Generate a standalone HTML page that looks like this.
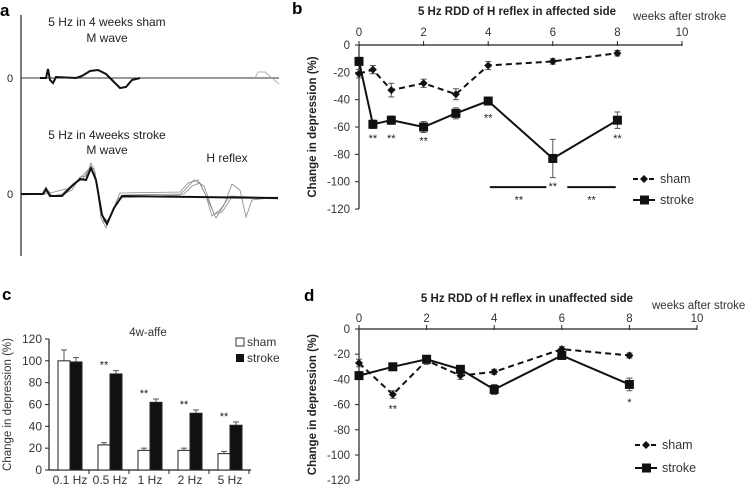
<!DOCTYPE html>
<html><head><meta charset="utf-8"><style>
body{margin:0;background:#fff;width:752px;height:489px;overflow:hidden}
svg{font-family:"Liberation Sans",Arial,sans-serif}
</style></head><body>
<svg id="fig" width="752" height="489" viewBox="0 0 752 489">
<!-- Panel a -->
<g id="pa">
<text x="0" y="16" font-size="17" font-weight="bold">a</text>
<line x1="21" y1="15" x2="21" y2="256" stroke="#222" stroke-width="1.2"/>
<text x="107" y="26" font-size="12" text-anchor="middle" fill="#222">5 Hz in 4 weeks sham</text>
<text x="107" y="42" font-size="12" text-anchor="middle" fill="#222">M wave</text>
<text x="107" y="139" font-size="12" text-anchor="middle" fill="#222">5 Hz in 4weeks stroke</text>
<text x="107" y="154" font-size="12" text-anchor="middle" fill="#222">M wave</text>
<text x="227" y="162" font-size="12" text-anchor="middle" fill="#222">H reflex</text>
<text x="10" y="82" font-size="11" text-anchor="middle" fill="#222">0</text>
<text x="10" y="198" font-size="11" text-anchor="middle" fill="#222">0</text>
<line x1="21" y1="78" x2="279" y2="78" stroke="#333" stroke-width="1"/>
<path d="M255,78 L258,72 L265,72 L272,78 L279,84" fill="none" stroke="#999" stroke-width="0.8"/>
<path d="M40,78 L46,78 L48,69 L50,80 L53,83 L56,77 L76,78 L82,76 L90,71 L98,70 L106,74 L114,82 L120,88 L126,87 L132,80 L140,78" fill="none" stroke="#111" stroke-width="2"/>
<g fill="none" stroke="#888" stroke-width="0.8">
<path d="M21,194 L42,194 L46,187 L50,195 L60,196 L72,190 L80,177 L86,176 L91,163 L95,172 L101,218 L106,228 L112,212 L120,193 L180,192 L188,183 L198,180 L206,196 L212,216 L220,210 L230,196 L278,198"/>
<path d="M21,195 L44,194 L48,190 L52,196 L62,194 L74,183 L82,180 L90,168 L96,178 L102,215 L108,222 L116,205 L124,195 L184,194 L192,186 L200,183 L208,200 L216,218 L224,205 L232,184 L240,190 L246,217 L252,200 L278,197"/>
<path d="M21,194 L46,194 L70,188 L78,180 L88,170 L94,168 L100,205 L104,222 L110,218 L118,198 L180,195 L194,180 L204,186 L214,214 L222,212 L232,197 L278,199"/>
</g>
<path d="M21,194 L43,194 L46,189 L50,196 L62,196 L72,186 L80,179 L86,180 L91,168 L96,180 L102,215 L107,224 L114,208 L122,196 L278,198" fill="none" stroke="#111" stroke-width="2"/>
</g>

<!-- Panel c -->
<g id="pc"></g>
<!-- Panel b -->
<g id="pb"></g>
<!-- Panel d -->
<g id="pd"></g>
</svg>
<script>
const NS="http://www.w3.org/2000/svg";
// Panel b data
const bWeeks=[0,0.43,1,2,3,4,6,8];
const bSham=[-21,-18,-33,-28,-36,-15,-12,-6];
const bShamErr=[3,3,5,3,4,3,2,2];
const bStroke=[-12,-58,-55,-60,-50,-41,-83,-55];
const bStrokeErr=[3,3,3,4,4,2,14,6];
const bStarWeeks=[0.43,1,2,4,8];
const bStarVals=[-68,-68,-70,-53,-68];
// Panel d data
const dWeeks=[0,1,2,3,4,6,8];
const dSham=[-27,-52,-25,-37,-34,-16,-21];
const dShamErr=[3,3,3,3,2,2,2];
const dStroke=[-37,-30,-24,-32,-48,-21,-44];
const dStrokeErr=[3,2,2,3,4,2,5];
// Panel c data
const cCats=["0.1 Hz","0.5 Hz","1 Hz","2 Hz","5 Hz"];
const cSham=[100,23,18,18,15];
const cShamErr=[10,2,2,2,2];
const cStroke=[99,88,62,52,41];
const cStrokeErr=[4,3,3,3,3];
const cStars=[false,true,true,true,true];
const yTicksLine=[0,-20,-40,-60,-80,-100,-120];
const xTicksLine=[0,2,4,6,8,10];
const yTicksBar=[0,20,40,60,80,100,120];

function el(tag,attrs,parent,text){const e=document.createElementNS(NS,tag);for(const k in attrs)e.setAttribute(k,attrs[k]);if(text!==undefined)e.textContent=text;parent.appendChild(e);return e;}

function lineChart(g,cfg){
  const X=w=>cfg.x0+w*cfg.xs, Y=v=>cfg.y0-v*cfg.ys;
  let t=el('text',{x:cfg.lx,y:cfg.ly,'font-size':17,'font-weight':'bold'},g,cfg.label);
  
  
  t=el('text',{x:cfg.tx,y:cfg.ty,'font-size':11.5,'font-weight':'bold','text-anchor':'middle',fill:'#222'},g,cfg.title);
  
  
  t=el('text',{x:cfg.wx,y:cfg.wy,'font-size':11.5,fill:'#333'},g,'weeks after stroke');
  
  
  t=el('text',{transform:`translate(${cfg.yl},${Y(-60)}) rotate(-90)`,'font-size':11.5,'font-weight':'bold','text-anchor':'middle',fill:'#222'},g,'Change in depression (%)');
  
  
  el('line',{x1:X(0),y1:Y(0),x2:X(10),y2:Y(0),stroke:'#222','stroke-width':1.2},g);
  el('line',{x1:X(0),y1:Y(0),x2:X(0),y2:Y(-120),stroke:'#222','stroke-width':1.2},g);
  xTicksLine.forEach(w=>{el('line',{x1:X(w),y1:Y(0)-4,x2:X(w),y2:Y(0)+1,stroke:'#222'},g);
    const tt=el('text',{x:X(w),y:cfg.xty,'font-size':11.5,'text-anchor':'middle',fill:'#333'},g,String(w));
    
    });
  yTicksLine.forEach(v=>{el('line',{x1:X(0)-4,y1:Y(v),x2:X(0),y2:Y(v),stroke:'#222'},g);
    const tt=el('text',{x:X(0)-9,y:Y(v)+4,'font-size':11.5,'text-anchor':'end',fill:'#333'},g,String(v));
    
    });
  function series(ws,vs,es,dash,name,square){
    const pts=ws.map((w,i)=>X(w)+','+Y(vs[i])).join(' ');
    const pl=el('polyline',{points:pts,fill:'none',stroke:'#111','stroke-width':2,'stroke-dasharray':dash},g);
    
    
    ws.forEach((w,i)=>{
      const x=X(w),y=Y(vs[i]),e=es[i]*cfg.ys;
      el('line',{x1:x,y1:y-e,x2:x,y2:y+e,stroke:'#555','stroke-width':1},g);
      el('line',{x1:x-3,y1:y-e,x2:x+3,y2:y-e,stroke:'#555'},g);
      el('line',{x1:x-3,y1:y+e,x2:x+3,y2:y+e,stroke:'#555'},g);
      let m;
      if(square)m=el('rect',{x:x-4.5,y:y-4.5,width:9,height:9,fill:'#111'},g);
      else m=el('path',{d:`M${x},${y-4}L${x+4},${y}L${x},${y+4}L${x-4},${y}Z`,fill:'#111'},g);
      
      
    });
  }
  series(cfg.ws,cfg.sham,cfg.shamE,'6,4','sham',false);
  series(cfg.ws,cfg.stroke,cfg.strokeE,'','stroke',true);
  const lx=cfg.legx;
  el('line',{x1:lx,y1:cfg.leg1,x2:lx+22,y2:cfg.leg1,stroke:'#111','stroke-width':2,'stroke-dasharray':'5,3'},g);
  el('path',{d:`M${lx+11},${cfg.leg1-4}L${lx+15},${cfg.leg1}L${lx+11},${cfg.leg1+4}L${lx+7},${cfg.leg1}Z`,fill:'#111'},g);
  t=el('text',{x:lx+27,y:cfg.leg1+4,'font-size':12.5,fill:'#333'},g,'sham');
  
  
  el('line',{x1:lx,y1:cfg.leg2,x2:lx+22,y2:cfg.leg2,stroke:'#111','stroke-width':2},g);
  el('rect',{x:lx+7,y:cfg.leg2-4.5,width:9,height:9,fill:'#111'},g);
  t=el('text',{x:lx+27,y:cfg.leg2+4,'font-size':12.5,fill:'#333'},g,'stroke');
  
  
  return {X,Y};
}
function star(g,x,y,s){const t=el('text',{x:x,y:y,'font-size':11,'text-anchor':'middle',fill:'#222'},g,s);
  
  }

const gb=document.getElementById('pb');
const b=lineChart(gb,{x0:359,xs:32.3,y0:45,ys:1.367,label:'b',lx:292,ly:14,title:'5 Hz RDD of H reflex in affected side',tx:517,ty:15,wx:633,wy:20,yl:316,xty:36,
  ws:bWeeks,sham:bSham,shamE:bShamErr,stroke:bStroke,strokeE:bStrokeErr,legx:633,leg1:179,leg2:200});
bStarWeeks.forEach((w,i)=>star(gb,b.X(w),b.Y(bStarVals[i])+4,'**'));
el('line',{x1:b.X(4.05),y1:b.Y(-104),x2:b.X(5.8),y2:b.Y(-104),stroke:'#111','stroke-width':2},gb);
el('line',{x1:b.X(6.45),y1:b.Y(-104),x2:b.X(7.95),y2:b.Y(-104),stroke:'#111','stroke-width':2},gb);
star(gb,b.X(6),b.Y(-103)+4,'**');star(gb,b.X(4.95),b.Y(-113)+4,'**');star(gb,b.X(7.2),b.Y(-113)+4,'**');

const gd=document.getElementById('pd');
const d=lineChart(gd,{x0:359,xs:33.8,y0:329,ys:1.26,label:'d',lx:304,ly:301,title:'5 Hz RDD of H reflex in unaffected side',tx:527,ty:302,wx:652,wy:309,yl:316,xty:322,
  ws:dWeeks,sham:dSham,shamE:dShamErr,stroke:dStroke,strokeE:dStrokeErr,legx:635,leg1:445,leg2:468});
star(gd,d.X(1),d.Y(-63)+4,'**');star(gd,d.X(8),d.Y(-57)+5,'*');

const gc=document.getElementById('pc');
const cx0=49,cy0=470,cys=131/120,cw=40,bw=12;
const CY=v=>cy0-v*cys;
let t=el('text',{x:2,y:300,'font-size':17,'font-weight':'bold'},gc,'c');


t=el('text',{x:148,y:336,'font-size':11.5,'text-anchor':'middle',fill:'#333'},gc,'4w-affe');


t=el('text',{transform:`translate(11,${CY(60)}) rotate(-90)`,'font-size':11.5,'text-anchor':'middle',fill:'#333'},gc,'Change in depression (%)');


el('line',{x1:cx0,y1:cy0,x2:cx0,y2:CY(120),stroke:'#222','stroke-width':1.2},gc);
el('line',{x1:cx0,y1:cy0,x2:cx0+cw*cCats.length+2,y2:cy0,stroke:'#222','stroke-width':1.2},gc);
yTicksBar.forEach(v=>{el('line',{x1:cx0-4,y1:CY(v),x2:cx0,y2:CY(v),stroke:'#222'},gc);
  const tt=el('text',{x:cx0-7,y:CY(v)+4,'font-size':12,'text-anchor':'end',fill:'#333'},gc,String(v));
  
  });
cCats.forEach((c,i)=>{
  const mid=cx0+cw*i+cw/2+1;
  el('line',{x1:cx0+cw*(i+1),y1:cy0,x2:cx0+cw*(i+1),y2:cy0+4,stroke:'#222'},gc);
  const tt=el('text',{x:mid,y:484,'font-size':12,'text-anchor':'middle',fill:'#333'},gc,c);
  
  
  [[cSham,cShamErr,'#fff',mid-bw,'bar-sham'],[cStroke,cStrokeErr,'#111',mid,'bar-stroke']].forEach(([vals,errs,fill,x,name])=>{
    const v=vals[i],top=CY(v),e=errs[i]*cys;
    el('line',{x1:x+bw/2,y1:top,x2:x+bw/2,y2:top-e,stroke:'#555'},gc);
    el('line',{x1:x+bw/2-3,y1:top-e,x2:x+bw/2+3,y2:top-e,stroke:'#555'},gc);
    const r=el('rect',{x:x,y:top,width:bw,height:cy0-top,fill:fill,stroke:'#222','stroke-width':1},gc);
    
    
  });
  if(cStars[i])star(gc,mid-bw/2,CY(cStroke[i]+cStrokeErr[i])-2,'**');
});
el('rect',{x:236,y:338,width:8,height:8,fill:'#fff',stroke:'#333'},gc);
t=el('text',{x:247,y:346,'font-size':12,fill:'#333'},gc,'sham');


el('rect',{x:236,y:354,width:8,height:8,fill:'#111'},gc);
t=el('text',{x:247,y:362,'font-size':12,fill:'#333'},gc,'stroke');


</script>
</body></html>
